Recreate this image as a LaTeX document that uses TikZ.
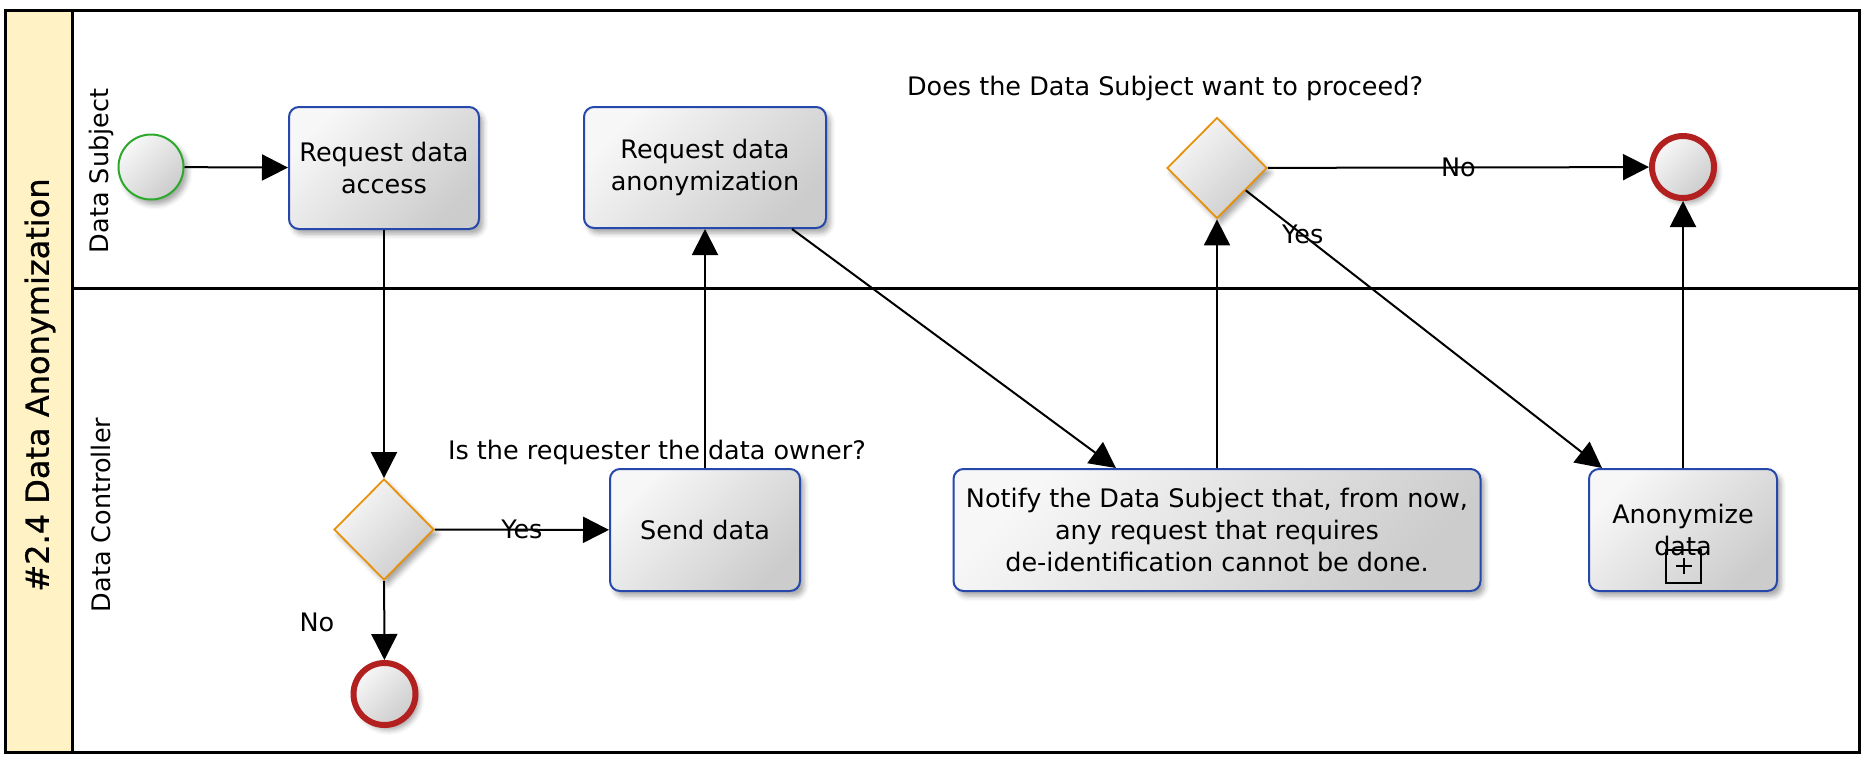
\documentclass[tikz,border=0pt]{standalone}
\usepackage{fontspec}
\setmainfont{DejaVu Sans}
\newfontfamily\titlefont[FakeBold=0.8]{DejaVu Sans}
\usetikzlibrary{arrows.meta,shapes.geometric,shadows.blur}
\definecolor{taskblue}{RGB}{38,72,170}
\definecolor{gworange}{RGB}{232,145,10}
\definecolor{startgreen}{RGB}{45,170,45}
\definecolor{endred}{RGB}{178,32,32}
\definecolor{poolyellow}{RGB}{255,242,196}
\tikzset{
  txt/.style={font=\fontsize{25.5}{32}\selectfont},
  shade3d/.style={top color=black!3, bottom color=black!20, shading angle=45},
  shad/.style={blur shadow={shadow xshift=4pt, shadow yshift=-5pt, shadow blur radius=5pt, shadow opacity=35}},
  task/.style={txt, draw=taskblue, line width=2pt, rounded corners=10pt, shade3d, shad, align=center, inner sep=2pt},
  gateway/.style={diamond, aspect=1, draw=gworange, line width=1.8pt, shade3d, shad, inner sep=0pt, minimum width=100pt, minimum height=101pt},
  startev/.style={circle, draw=startgreen, line width=2pt, shade3d, shad, minimum size=65pt, inner sep=0pt},
  endev/.style={circle, draw=endred, line width=6pt, shade3d, shad, minimum size=62pt, inner sep=0pt},
  flow/.style={line width=2pt, -{Triangle[length=26pt,width=26pt]}},
  lbl/.style={txt, inner sep=0pt},
  frame/.style={line width=3pt},
}
\begin{document}
\begin{tikzpicture}[x=1pt,y=-1pt]
\useasboundingbox (0,0) rectangle (1868,764);
% pool and lanes
\fill[poolyellow] (5,10) rectangle (72,752);
\draw[frame] (5,10) rectangle (1859,752);
\draw[frame] (72,10) -- (72,752);
\draw[frame] (72,288) -- (1859,288);
\node[rotate=90, font=\titlefont\fontsize{32}{38}\selectfont] (title) at (40,385) {\#2.4 Data Anonymization};
\node[txt, rotate=90] (lane1) at (101,171) {Data Subject};
\node[txt, rotate=90] (lane2) at (101,515) {Data Controller};

% events, tasks, gateways
\node[startev] (start) at (151,167) {};
\node[task, minimum width=190pt, minimum height=122pt] (rda) at (384,168) {Request data\\access};
\node[task, minimum width=242pt, minimum height=121pt] (anon) at (705,167.5) {Request data\\anonymization};
\node[gateway] (gw1) at (384,529.5) {};
\node[task, minimum width=190pt, minimum height=122pt] (send) at (705,530) {Send data};
\node[endev] (end1) at (384.5,694) {};
\node[task, minimum width=527pt, minimum height=122pt] (notify) at (1217,530) {Notify the Data Subject that, from now,\\any request that requires\\de-identification cannot be done.};
\node[gateway] (gw2) at (1217,168) {};
\node[endev] (end2) at (1683,167) {};
\node[task, minimum width=188pt, minimum height=122pt] (anonym) at (1683,530) {Anonymize\\data};
% collapsed sub-process marker
\draw[line width=1.5pt] (1666,550) rectangle (1701,583);
\draw[line width=1.5pt] (1676,566) -- (1692,566) (1684,558) -- (1684,574);

% gateway labels
\node[lbl] (q1) at (657,452) {Is the requester the data owner?};
\node[lbl] (q2) at (1165,88) {Does the Data Subject want to proceed?};

% flows
\draw[flow] (start) -- (rda);
\draw[flow] (rda) -- (gw1);
\draw[flow] (gw1) -- node[lbl, pos=0.5] {Yes} (send);
\draw[flow] (gw1) -- node[lbl, pos=0.52, anchor=east, xshift=-49pt] {No} (end1);
\draw[flow] (send) -- (anon);
\draw[flow] ([xshift=-35pt]anon.south east) -- ([xshift=-101pt]notify.north);
\draw[flow] (notify) -- (gw2);
\draw[flow] (gw2) -- node[lbl, pos=0.5] {No} (end2);
\draw[flow] (gw2) -- node[lbl, pos=0.16] {Yes} ([xshift=-81pt]anonym.north);
\draw[flow] (anonym) -- (end2);
\end{tikzpicture}
\end{document}
